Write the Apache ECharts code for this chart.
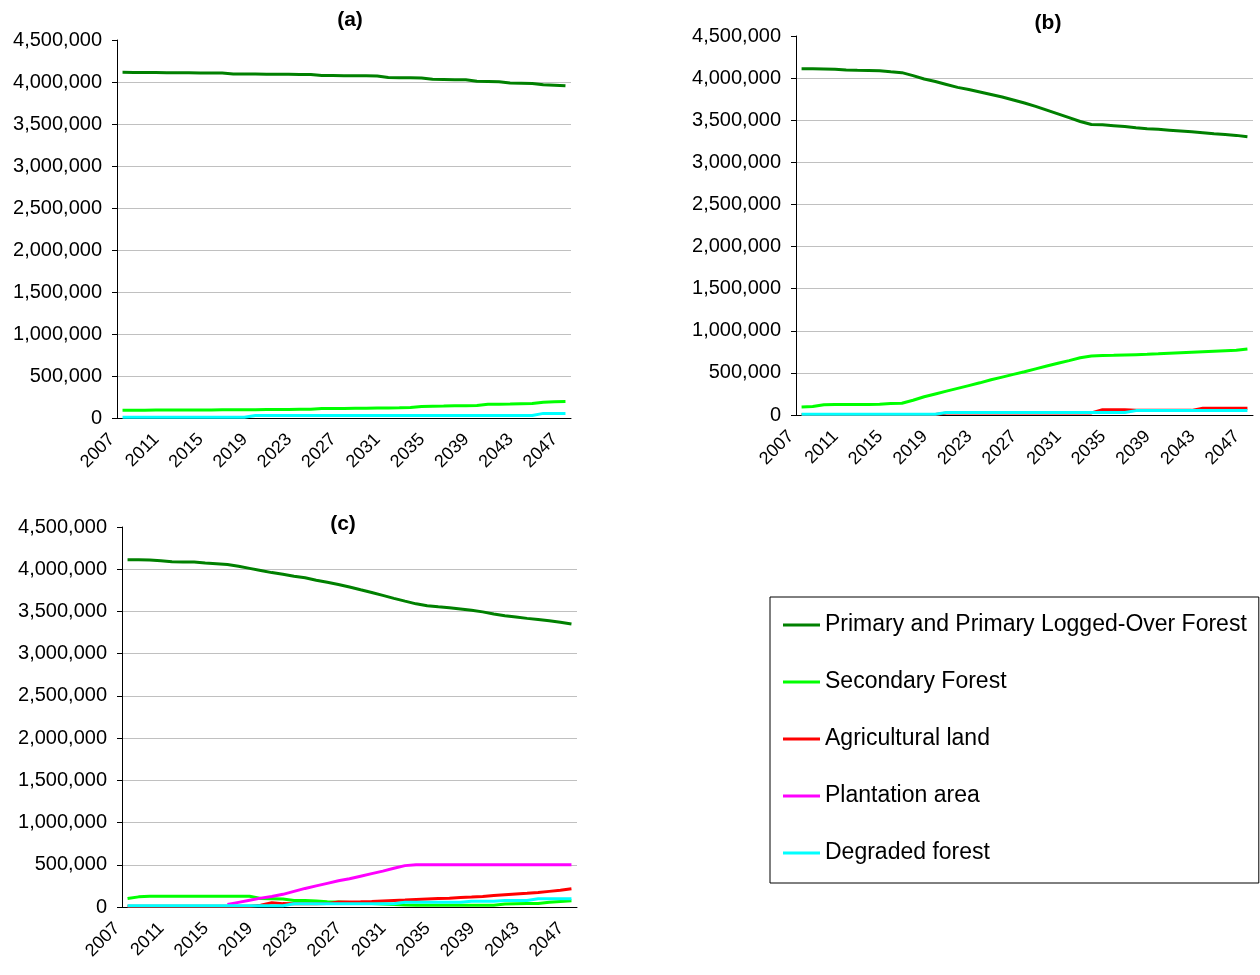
<!DOCTYPE html>
<html>
<head>
<meta charset="utf-8">
<script src="https://cdn.jsdelivr.net/npm/echarts@6/dist/echarts.min.js"></script>
<style>
  html, body { margin: 0; background: #fff; }
  #chart { width: 1260px; height: 975px; }
</style>
</head>
<body>
<div id="chart"></div>
<script>
const years = ['2007','2008','2009','2010','2011','2012','2013','2014','2015','2016',
  '2017','2018','2019','2020','2021','2022','2023','2024','2025','2026',
  '2027','2028','2029','2030','2031','2032','2033','2034','2035','2036',
  '2037','2038','2039','2040','2041','2042','2043','2044','2045','2046','2047'];

const seriesNames = ['Primary and Primary Logged-Over Forest', 'Secondary Forest',
  'Agricultural land', 'Plantation area', 'Degraded forest'];
const panelTitles = ['(a)', '(b)', '(c)'];

// (a)
const primaryA = [4115000, 4114000, 4113000, 4112000, 4111000, 4110000, 4109000, 4108000, 4107000, 4106000,
  4096000, 4095000, 4094000, 4093000, 4092000, 4091000, 4090000, 4089000,
  4077000, 4076000, 4075000, 4074000, 4073000, 4072000,
  4054000, 4052000, 4050000, 4048000,
  4032000, 4030000, 4028000, 4026000,
  4008000, 4005000, 4002000,
  3988000, 3985000, 3982000,
  3968000, 3962000, 3955000];
const secondaryA = [92000, 93000, 93000, 94000, 94000, 95000, 95000, 96000, 96000, 97000,
  98000, 98000, 99000, 100000, 101000, 102000, 103000, 104000,
  112000, 113000, 114000, 115000, 116000, 118000, 120000, 122000, 125000,
  138000, 140000, 142000, 145000, 147000, 150000,
  163000, 165000, 167000, 170000, 172000,
  188000, 192000, 196000];
const degradedA = [10000, 10000, 10000, 10000, 10000, 10000, 10000, 10000, 10000, 10000, 10000, 10000,
  30000, 30000, 30000, 30000, 30000, 30000, 30000, 30000, 30000, 30000, 30000, 30000, 30000,
  30000, 30000, 30000, 30000, 30000, 30000, 30000, 30000, 30000, 30000, 30000, 30000, 30000,
  55000, 55000, 55000];

// (b)
const primaryB = [4110000, 4110000, 4108000, 4105000, 4095000, 4092000, 4090000, 4088000, 4075000, 4065000,
  4030000, 3990000, 3960000, 3925000, 3890000, 3865000, 3835000, 3805000, 3775000, 3740000,
  3705000, 3665000, 3620000, 3575000, 3530000, 3485000, 3450000, 3445000, 3435000, 3425000,
  3412000, 3400000, 3392000, 3382000, 3372000, 3362000, 3352000, 3340000, 3330000, 3320000,
  3305000];
const secondaryB = [95000, 100000, 122000, 124000, 125000, 125000, 126000, 128000, 136000, 140000,
  175000, 217000, 250000, 283000, 316000, 349000, 382000, 418000, 450000, 482000,
  514000, 548000, 582000, 614000, 646000, 680000, 700000, 705000, 708000, 712000,
  716000, 720000, 726000, 734000, 740000, 746000, 752000, 758000, 764000, 770000,
  785000];
const agriB = [5000, 5000, 5000, 5000, 5000, 5000, 5000, 5000, 5000, 5000, 5000, 5000, 5000,
  25000, 25000, 25000, 25000, 25000, 25000, 25000, 25000, 25000, 25000, 25000, 25000, 25000, 25000,
  62000, 62000, 62000,
  55000, 55000, 55000, 55000, 55000, 55000,
  80000, 80000, 80000, 80000, 80000];
const degradedB = [10000, 10000, 10000, 10000, 10000, 10000, 10000, 10000, 10000, 10000, 10000, 10000, 10000,
  30000, 30000, 30000, 30000, 30000, 30000, 30000, 30000, 30000, 30000, 30000, 30000, 30000, 30000,
  30000, 30000, 30000,
  52000, 52000, 52000, 52000, 52000, 52000, 52000, 52000, 52000, 52000, 52000];

// (c)
const primaryC = [4112000, 4112000, 4110000, 4100000, 4088000, 4087000, 4085000, 4075000, 4066000, 4055000,
  4035000, 4010000, 3985000, 3960000, 3940000, 3918000, 3898000, 3870000, 3845000, 3820000,
  3790000, 3757000, 3725000, 3690000, 3655000, 3622000, 3590000, 3568000, 3555000, 3545000,
  3530000, 3515000, 3495000, 3470000, 3450000, 3435000, 3418000, 3405000, 3390000, 3372000,
  3352000];
const secondaryC = [100000, 120000, 128000, 128000, 128000, 128000, 128000, 128000, 128000, 128000,
  128000, 127000, 100000, 98000, 95000, 78000, 76000, 72000, 62000, 58000,
  52000, 45000, 40000, 35000, 30000, 25000, 22000, 21000, 20000, 20000,
  20000, 21000, 22000, 22000, 35000, 38000, 40000, 42000, 55000, 65000,
  75000];
const agriC = [10000, 10000, 10000, 10000, 10000, 10000, 10000, 10000, 10000, 10000, 10000, 10000,
  20000, 50000, 40000, 38000, 38000, 38000, 40000, 58000,
  60000, 62000, 65000, 72000, 78000, 82000, 90000, 95000, 100000, 105000,
  112000, 118000, 125000, 135000, 145000, 155000, 162000, 172000, 185000, 198000,
  215000];
const plantC = [null, null, null, null, null, null, null, null, null,
  30000, 55000, 80000, 105000, 125000, 150000, 185000, 220000, 250000, 280000, 310000,
  335000, 365000, 395000, 425000, 458000, 490000,
  500000, 500000, 500000, 500000, 500000, 500000, 500000, 500000, 500000, 500000,
  500000, 500000, 500000, 500000, 500000];
const degradedC = [15000, 15000, 15000, 15000, 15000, 15000, 15000, 15000, 15000, 15000, 15000, 15000, 15000, 15000, 15000,
  38000, 38000, 38000, 38000, 38000, 38000, 38000, 38000, 38000, 38000,
  55000, 55000, 55000, 55000, 55000, 55000,
  68000, 68000, 68000,
  78000, 78000, 78000,
  98000, 98000, 98000, 98000];

const colors = {
  'Primary and Primary Logged-Over Forest': '#008000',
  'Secondary Forest': '#00ff00',
  'Agricultural land': '#ff0000',
  'Plantation area': '#ff00ff',
  'Degraded forest': '#00ffff'
};
const font = '"Liberation Sans", Arial, sans-serif';

const grids = [
  { left: 117, top: 40, width: 454, height: 378 },
  { left: 796, top: 36, width: 457, height: 379 },
  { left: 122, top: 527, width: 455, height: 380 }
];
const titlePos = [[350, 10], [1048, 13], [343, 514]];

function line(name, data, idx) {
  return {
    name: name,
    type: 'line',
    xAxisIndex: idx,
    yAxisIndex: idx,
    data: data,
    symbol: 'none',
    silent: true,
    lineStyle: { width: 3, color: colors[name] },
    itemStyle: { color: colors[name] }
  };
}

const option = {
  animation: false,
  backgroundColor: '#fff',
  title: panelTitles.map((t, i) => ({
    text: t,
    left: titlePos[i][0],
    top: titlePos[i][1],
    textAlign: 'center',
    padding: 0,
    textStyle: { fontFamily: font, fontSize: 21, fontWeight: 'bold', color: '#000' }
  })),
  legend: {
    orient: 'vertical',
    left: 770,
    top: 597,
    icon: 'rect',
    itemWidth: 37,
    itemHeight: 3,
    itemGap: 33,
    padding: [16, 12, 18, 13],
    borderColor: '#000',
    borderWidth: 1,
    selectedMode: false,
    data: seriesNames,
    textStyle: { fontFamily: font, fontSize: 23, lineHeight: 24, color: '#000' }
  },
  grid: grids,
  xAxis: grids.map((g, i) => ({
    type: 'category',
    gridIndex: i,
    data: years,
    boundaryGap: true,
    axisLine: { lineStyle: { color: '#000', width: 1 } },
    axisTick: { interval: 0, length: 6, lineStyle: { color: '#000' } },
    axisLabel: {
      interval: 3, rotate: 45, margin: 8, padding: [0, 15, 0, 0],
      fontSize: 18, fontFamily: font, color: '#000'
    },
    splitLine: { show: false }
  })),
  yAxis: grids.map((g, i) => ({
    type: 'value',
    gridIndex: i,
    min: 0,
    max: 4500000,
    interval: 500000,
    axisLine: { show: true, lineStyle: { color: '#000', width: 1 } },
    axisTick: { show: true, length: 5, lineStyle: { color: '#000' } },
    axisLabel: {
      margin: 15, fontSize: 20, fontFamily: font, color: '#000',
      formatter: v => v.toLocaleString('en-US')
    },
    splitLine: { show: true, showMaxLine: false, lineStyle: { color: '#c0c0c0', width: 1 } }
  })),
  series: [
    line(seriesNames[0], primaryA, 0),
    line(seriesNames[1], secondaryA, 0),
    line(seriesNames[4], degradedA, 0),

    line(seriesNames[0], primaryB, 1),
    line(seriesNames[1], secondaryB, 1),
    line(seriesNames[2], agriB, 1),
    line(seriesNames[4], degradedB, 1),

    line(seriesNames[0], primaryC, 2),
    line(seriesNames[1], secondaryC, 2),
    line(seriesNames[2], agriC, 2),
    line(seriesNames[3], plantC, 2),
    line(seriesNames[4], degradedC, 2)
  ]
};

const chart = echarts.init(document.getElementById('chart'), null, { renderer: 'canvas' });
chart.setOption(option);
</script>
</body>
</html>
